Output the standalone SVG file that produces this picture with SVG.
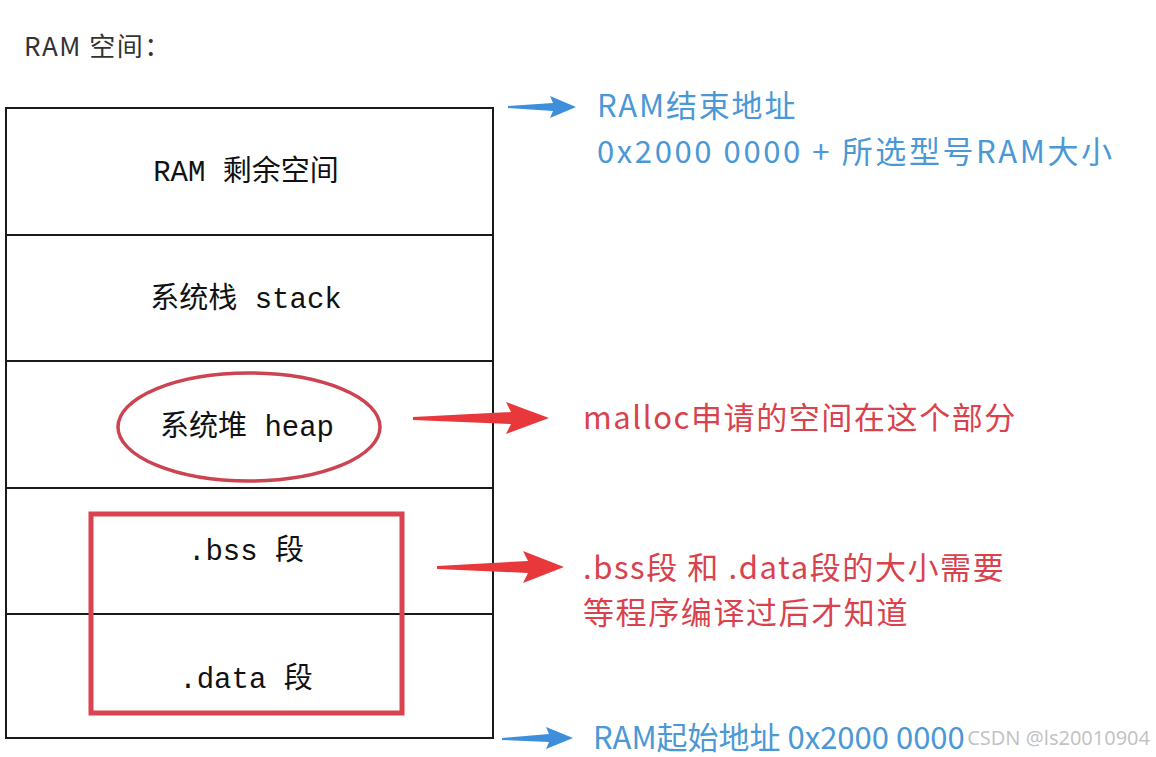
<svg xmlns="http://www.w3.org/2000/svg" width="1156" height="757" viewBox="0 0 1156 757">
<style>
.cell{fill:#fff;stroke:#1a1a1a;stroke-width:2}
.mono{font-family:"Liberation Mono","Noto Sans CJK SC",monospace;font-size:29px;fill:#111}
.blue{font-family:"Noto Sans CJK SC",sans-serif;font-size:31px;letter-spacing:1.8px;fill:#4a98d6}
.red{font-family:"Noto Sans CJK SC",sans-serif;font-size:31px;letter-spacing:1.6px;fill:#d9424c}
.barrow{fill:#3d8fdc}
.rarrow{fill:#e8383c}
</style>
<rect width="1156" height="757" fill="#fff"/>
<text x="24" y="56" font-family="Noto Sans CJK SC, sans-serif" font-size="26" letter-spacing="1.5" fill="#333">RAM 空间：</text>
<g id="ram-free"><rect class="cell" x="6" y="108" width="487" height="127"/><text class="mono" x="246" y="181" text-anchor="middle">RAM 剩余空间</text></g>
<g id="stack"><rect class="cell" x="6" y="235" width="487" height="126"/><text class="mono" x="246" y="308" text-anchor="middle">系统栈 stack</text></g>
<g id="heap"><rect class="cell" x="6" y="361" width="487" height="127"/><ellipse cx="249" cy="427" rx="131" ry="54" fill="none" stroke="#cc4452" stroke-width="3.5"/><text class="mono" x="247" y="436" text-anchor="middle">系统堆 heap</text></g>
<g id="bss"><rect class="cell" x="6" y="488" width="487" height="126"/><text class="mono" x="246" y="560" text-anchor="middle">.bss 段</text></g>
<g id="data"><rect class="cell" x="6" y="614" width="487" height="124"/><text class="mono" x="246" y="688" text-anchor="middle">.data 段</text></g>
<g id="bss-data-box"><rect x="91" y="514" width="311" height="199" fill="none" stroke="#d9434f" stroke-width="5"/></g>
<g id="connectors">
<path class="barrow" d="M508,106 L553,103 L550,96 L576,107 L550,118 L553,111 L508,108 Z"/>
<path class="barrow" d="M502,738 L549,734 L546,727 L573,738 L546,749 L549,742 L502,740 Z"/>
<path class="rarrow" d="M413,417 L511,412 L506,402 L549,418 L506,434 L511,424 L413,420 Z"/>
<path class="rarrow" d="M437,566 L528,561 L523,551 L564,567 L523,583 L528,573 L437,569 Z"/>
</g>
<g id="labels">
<text class="blue" x="597" y="117">RAM结束地址</text>
<text class="blue" x="597" y="163" style="letter-spacing:2.6px">0x2000 0000 + 所选型号RAM大小</text>
<text class="red" x="583" y="429">malloc申请的空间在这个部分</text>
<text class="red" x="583" y="579">.bss段 和 .data段的大小需要</text>
<text class="red" x="583" y="624">等程序编译过后才知道</text>
<text class="blue" x="593" y="749" style="letter-spacing:0">RAM起始地址 0x2000 0000</text>
<text x="1150" y="745" text-anchor="end" font-family="Noto Sans, sans-serif" font-size="20" fill="#999" fill-opacity="0.6">CSDN @ls20010904</text>
</g>
</svg>
